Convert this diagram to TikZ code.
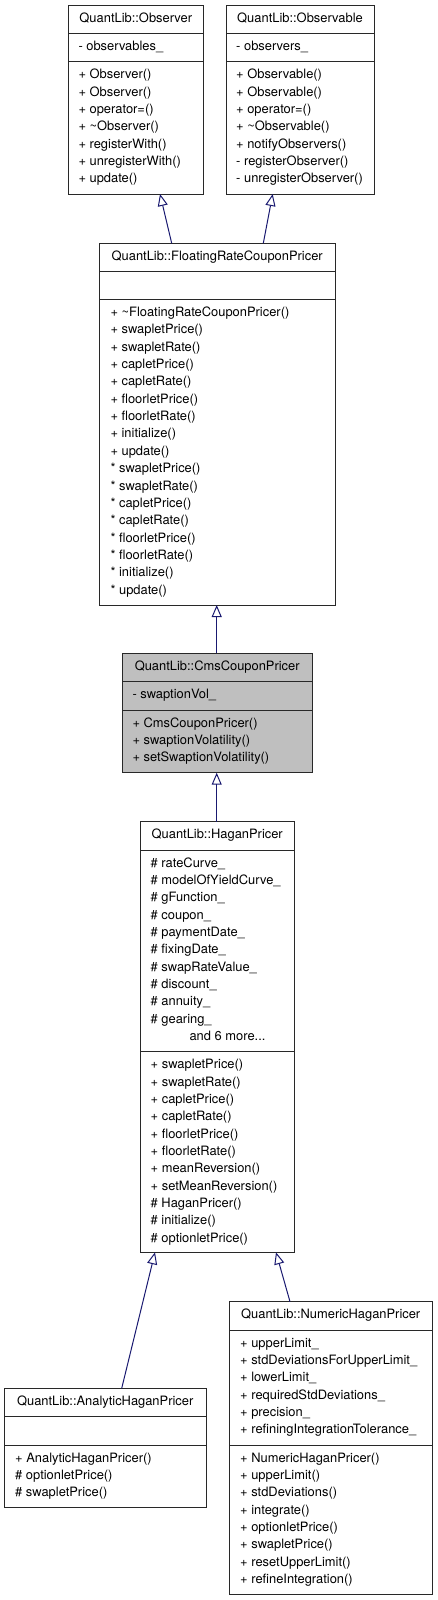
\documentclass[tikz,border=0pt]{standalone}
\usepackage{fontspec}
\newfontfamily\umlfamily{TeX Gyre Heros}
\usetikzlibrary{arrows.meta}
\definecolor{bordercol}{RGB}{40,40,40}
\definecolor{arrowcol}{RGB}{25,25,112}
\definecolor{curfill}{RGB}{191,191,191}
\newcommand\umlfont{\umlfamily\fontsize{12.9}{17.35}\selectfont}
\newcommand\rowsA[1]{\begin{tabular}[t]{@{}l@{}}#1\end{tabular}}
\tikzset{
  cls/.style={draw=bordercol, line width=1pt, fill=white, anchor=north west, inner sep=0pt, outer sep=0pt},
  ttl/.style={anchor=base, inner sep=0pt, font=\umlfont},
  rows/.style={anchor=base west, inner sep=0pt, font=\umlfont},
  sepline/.style={draw=bordercol, line width=1pt},
  inh/.style={draw=arrowcol, line width=1pt, -{Triangle[open,length=12pt,width=10pt]}}
}
\begin{document}
\begin{tikzpicture}[x=1pt,y=-1pt]
\useasboundingbox (0,0) rectangle (437,1600);

% Observer
\node[cls, minimum width=135pt, minimum height=188.3pt] (obs) at (68.3,5.7) {};
\draw[sepline] (68.3,33.3) -- (203.3,33.3);
\draw[sepline] (68.3,61.7) -- (203.3,61.7);
\node[ttl] (obsT) at (135.8,22.7) {QuantLib::Observer};
\node[rows] (obsA) at (78.3,50.3) {\rowsA{- observables\_}};
\node[rows] (obsM) at (78.3,78.7) {\rowsA{+ Observer()\\+ Observer()\\+ operator=()\\+ \textasciitilde Observer()\\+ registerWith()\\+ unregisterWith()\\+ update()}};

% Observable
\node[cls, minimum width=148pt, minimum height=188.3pt] (obsl) at (226,5.7) {};
\draw[sepline] (226,33.3) -- (374,33.3);
\draw[sepline] (226,61.7) -- (374,61.7);
\node[ttl] (obslT) at (300,22.7) {QuantLib::Observable};
\node[rows] (obslA) at (236,50.3) {\rowsA{- observers\_}};
\node[rows] (obslM) at (236,78.7) {\rowsA{+ Observable()\\+ Observable()\\+ operator=()\\+ \textasciitilde Observable()\\+ notifyObservers()\\- registerObserver()\\- unregisterObserver()}};

% FloatingRateCouponPricer
\node[cls, minimum width=235.7pt, minimum height=361.7pt] (frcp) at (99.3,243.3) {};
\draw[sepline] (99.3,271.7) -- (335,271.7);
\draw[sepline] (99.3,299.3) -- (335,299.3);
\node[ttl] (frcpT) at (217.2,260.3) {QuantLib::FloatingRateCouponPricer};
\node[rows] (frcpM) at (110.3,316.5) {\rowsA{+ \textasciitilde FloatingRateCouponPricer()\\+ swapletPrice()\\+ swapletRate()\\+ capletPrice()\\+ capletRate()\\+ floorletPrice()\\+ floorletRate()\\+ initialize()\\+ update()\\{}* swapletPrice()\\{}* swapletRate()\\{}* capletPrice()\\{}* capletRate()\\{}* floorletPrice()\\{}* floorletRate()\\{}* initialize()\\{}* update()}};

% CmsCouponPricer
\node[cls, fill=curfill, minimum width=189.7pt, minimum height=119.4pt] (cms) at (122.3,653.3) {};
\draw[sepline] (122.3,681.7) -- (312,681.7);
\draw[sepline] (122.3,710) -- (312,710);
\node[ttl] (cmsT) at (217.2,670.3) {QuantLib::CmsCouponPricer};
\node[rows] (cmsA) at (132.3,698.5) {\rowsA{- swaptionVol\_}};
\node[rows] (cmsM) at (132.3,727) {\rowsA{+ CmsCouponPricer()\\+ swaptionVolatility()\\+ setSwaptionVolatility()}};

% HaganPricer
\node[cls, minimum width=154.5pt, minimum height=430.6pt] (hag) at (140,821.7) {};
\draw[sepline] (140,850) -- (294.5,850);
\draw[sepline] (140,1051.7) -- (294.5,1051.7);
\node[ttl] (hagT) at (217.2,838.7) {QuantLib::HaganPricer};
\node[rows] (hagA) at (150.5,867) {\rowsA{\# rateCurve\_\\\# modelOfYieldCurve\_\\\# gFunction\_\\\# coupon\_\\\# paymentDate\_\\\# fixingDate\_\\\# swapRateValue\_\\\# discount\_\\\# annuity\_\\\# gearing\_}};
\node[ttl] (hagMore) at (227.5,1040.5) {and 6 more...};
\node[rows] (hagM) at (150.5,1068.7) {\rowsA{+ swapletPrice()\\+ swapletRate()\\+ capletPrice()\\+ capletRate()\\+ floorletPrice()\\+ floorletRate()\\+ meanReversion()\\+ setMeanReversion()\\\# HaganPricer()\\\# initialize()\\\# optionletPrice()}};

% AnalyticHaganPricer
\node[cls, minimum width=201.7pt, minimum height=119pt] (ana) at (4.3,1388.3) {};
\draw[sepline] (4.3,1416.7) -- (206,1416.7);
\draw[sepline] (4.3,1445) -- (206,1445);
\node[ttl] (anaT) at (105.2,1405.3) {QuantLib::AnalyticHaganPricer};
\node[rows] (anaM) at (15,1462) {\rowsA{+ AnalyticHaganPricer()\\\# optionletPrice()\\\# swapletPrice()}};

% NumericHaganPricer
\node[cls, minimum width=203.3pt, minimum height=292.3pt] (num) at (229,1301.7) {};
\draw[sepline] (229,1330) -- (432.3,1330);
\draw[sepline] (229,1445) -- (432.3,1445);
\node[ttl] (numT) at (330.7,1318.7) {QuantLib::NumericHaganPricer};
\node[rows] (numA) at (240,1347) {\rowsA{+ upperLimit\_\\+ stdDeviationsForUpperLimit\_\\+ lowerLimit\_\\+ requiredStdDeviations\_\\+ precision\_\\+ refiningIntegrationTolerance\_}};
\node[rows] (numM) at (240,1462) {\rowsA{+ NumericHaganPricer()\\+ upperLimit()\\+ stdDeviations()\\+ integrate()\\+ optionletPrice()\\+ swapletPrice()\\+ resetUpperLimit()\\+ refineIntegration()}};

% inheritance connectors
\draw[inh] ([xshift=72.4pt]frcp.north west) -- ([xshift=91.7pt]obs.south west);
\draw[inh] ([xshift=164pt]frcp.north west) -- ([xshift=46.7pt]obsl.south west);
\draw[inh] ([xshift=94.4pt]cms.north west) -- ([xshift=117.4pt]frcp.south west);
\draw[inh] ([xshift=76.7pt]hag.north west) -- ([xshift=94.4pt]cms.south west);
\draw[inh] ([xshift=117.4pt]ana.north west) -- ([xshift=15pt]hag.south west);
\draw[inh] ([xshift=61pt]num.north west) -- ([xshift=136pt]hag.south west);
\end{tikzpicture}
\end{document}
